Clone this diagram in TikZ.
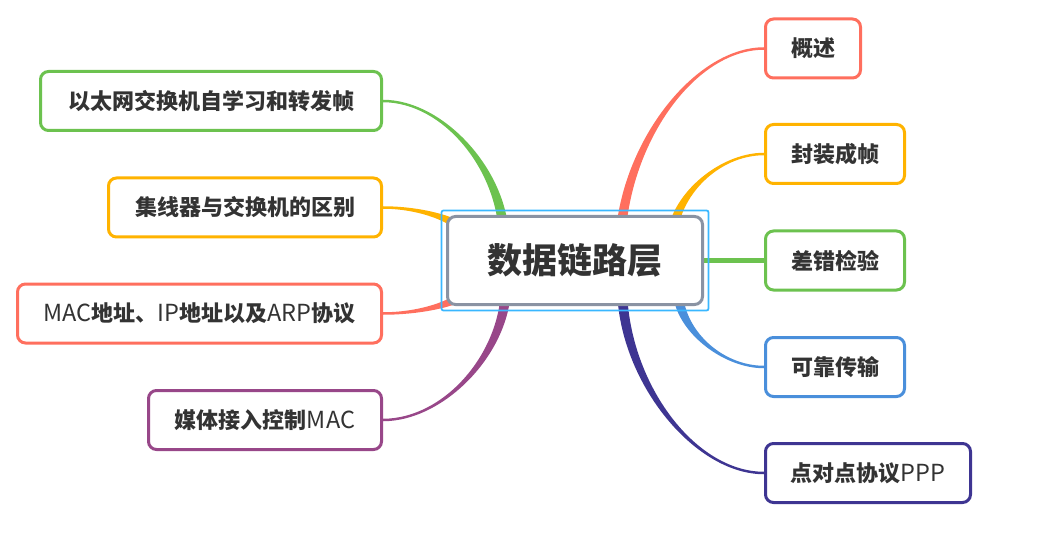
\documentclass[tikz,border=0pt]{standalone}
\usepackage{fontspec}
\setmainfont{Noto Sans CJK SC}
\usetikzlibrary{calc,backgrounds}
\definecolor{txt}{HTML}{333333}
\definecolor{bred}{HTML}{FF6F5E}
\definecolor{byellow}{HTML}{FFB300}
\definecolor{bgreen}{HTML}{6CC24F}
\definecolor{bblue}{HTML}{4A8FDB}
\definecolor{bindigo}{HTML}{3E3592}
\definecolor{bpurple}{HTML}{984789}
\definecolor{cgray}{HTML}{8A93A3}
\definecolor{csel}{HTML}{3AB7FF}
% latin words in the topics are set lighter and a bit larger
\newcommand\lat[1]{{\mdseries\fontsize{23.5}{26}\selectfont #1}}
% tapered branch: colour, child anchor, end point, half width at end, half width at child
\newcommand\branch[5]{%
  \fill[#1] ($(#2)+#5$) .. controls ($(#2)!0.5!(#3|-#2)+#5$) and ($(#3)!0.5!(#3|-#2)+#4$) .. ($(#3)+#4$)
    -- ($(#3)-#4$) .. controls ($(#3)!0.5!(#3|-#2)-#4$) and ($(#2)!0.5!(#3|-#2)-#5$) .. ($(#2)-#5$) -- cycle;}
\begin{document}
\begin{tikzpicture}[x=1pt, y=-1pt,
    topic/.style={draw=#1, line width=3pt, rounded corners=8pt, fill=white, text=txt,
      minimum height=59pt, inner sep=0pt, font=\fontsize{22}{26}\selectfont\bfseries},
    centre/.style={draw=cgray, line width=3pt, rounded corners=8pt, fill=white, text=txt,
      minimum width=255pt, minimum height=88pt, inner sep=0pt, font=\fontsize{35}{40}\selectfont\bfseries}]
  \useasboundingbox (0,0) rectangle (1047,540);
  % central topic
  \node[centre] (dll) at (575,260.5) {数据链路层};
  \draw[csel, line width=1.8pt, rounded corners=2pt] ([xshift=-4.5pt,yshift=4.5pt]dll.north west) rectangle ([xshift=4.5pt,yshift=-4.5pt]dll.south east);
  % right side
  \node[topic=bred, minimum width=95pt] (gs) at (813,48.5) {概述};
  \node[topic=byellow, minimum width=139pt] (fz) at (835,154) {封装成帧};
  \node[topic=bgreen, minimum width=139pt] (cc) at (835,260.5) {差错检验};
  \node[topic=bblue, minimum width=139pt] (kk) at (835,367) {可靠传输};
  \node[topic=bindigo, minimum width=205pt] (ppp) at (868,473) {点对点协议\lat{PPP}};
  % left side
  \node[topic=bgreen, minimum width=341pt] (sw) at (211,101) {以太网交换机自学习和转发帧};
  \node[topic=byellow, minimum width=273pt] (hub) at (245,207.5) {集线器与交换机的区别};
  \node[topic=bred, minimum width=364pt] (mac) at (199.5,313.5) {\lat{MAC}地址、\lat{IP}地址以及\lat{ARP}协议};
  \node[topic=bpurple, minimum width=233pt] (media) at (265,420) {媒体接入控制\lat{MAC}};
  % branch ends inside the central box
  \coordinate (egs) at ($(dll.center)+(45,-10)$);
  \coordinate (efz) at ($(dll.center)+(97,-20)$);
  \coordinate (ekk) at ($(dll.center)+(103,30)$);
  \coordinate (eppp) at ($(dll.center)+(47,25)$);
  \coordinate (esw) at ($(dll.center)+(-71,-20)$);
  \coordinate (ehub) at ($(dll.center)+(-105,-20)$);
  \coordinate (emac) at ($(dll.center)+(-105,25)$);
  \coordinate (emedia) at ($(dll.center)+(-69,25)$);
  \begin{scope}[on background layer]
    \branch{bred}{gs.west}{egs}{(-5,0)}{(0,-1.25)}
    \branch{byellow}{fz.west}{efz}{(-5,0)}{(0,-1.25)}
    \draw[bgreen, line width=4.5pt] (dll.east) -- (cc.west);
    \branch{bblue}{kk.west}{ekk}{(-5,0)}{(0,1.25)}
    \branch{bindigo}{ppp.west}{eppp}{(-5,0)}{(0,1.25)}
    \branch{bgreen}{sw.east}{esw}{(5,0)}{(0,-1.25)}
    \branch{byellow}{hub.east}{ehub}{(4,-4)}{(0,-1.25)}
    \branch{bred}{mac.east}{emac}{(-4,-4)}{(0,-1.25)}
    \branch{bpurple}{media.east}{emedia}{(5,0)}{(0,1.25)}
  \end{scope}
\end{tikzpicture}
\end{document}
